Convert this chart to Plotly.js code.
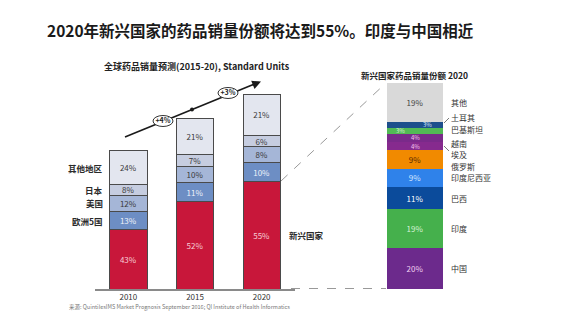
<!DOCTYPE html>
<html><head><meta charset="utf-8">
<script src="https://cdn.plot.ly/plotly-3.0.1.min.js"></script>
<style>html,body{margin:0;padding:0;background:#fff}#chart{width:574px;height:335px}</style>
</head><body><div id="chart"></div>
<script>
// ---- data: left chart (global volume forecast) ----
const years = ['2010', '2015', '2020'];
const volumeIndex = [100, 122, 141];          // total volume index (2010 = 100), +4% / +3% CAGR
const regionNames = ['新兴国家', '欧洲5国', '美国', '日本', '其他地区'];
const shareEmerging = [43, 52, 55];
const shareEU5 = [13, 11, 10];
const shareUS = [12, 10, 8];
const shareJapan = [8, 7, 6];
const shareOther = [24, 21, 21];
const growthLabels = ['+4%', '+3%'];

// ---- data: right chart (emerging market share 2020) ----
const emCountries = ['中国', '印度', '巴西', '印度尼西亚', '俄罗斯', '埃及', '越南', '巴基斯坦', '土耳其', '其他'];
const emShares = [20, 19, 11, 9, 9, 4, 4, 3, 3, 19];

const W = 574, H = 335;
const px = x => x / W, py = y => 1 - y / H;
const FONT = '"Noto Sans CJK SC", "Liberation Sans", Arial, sans-serif';

const leftShares = [shareEmerging, shareEU5, shareUS, shareJapan, shareOther];
const leftColors = ['#c8173a', '#6d8ec4', '#a5b6d7', '#c6cde0', '#e3e6ef'];
const leftTextColors = ['#f6cdd5', '#eef2fa', '#3a3a3a', '#3a3a3a', '#3a3a3a'];

const traces = [];
leftShares.forEach((s, i) => {
  traces.push({
    type: 'bar', x: years, y: s.map((v, j) => v * volumeIndex[j] / 100),
    name: regionNames[i], width: 0.56,
    marker: {color: leftColors[i], line: {color: '#4a4a4a', width: 1}},
    text: s.map(v => v + '%'), textposition: 'inside', insidetextanchor: 'middle',
    textfont: {size: 8, color: leftTextColors[i], family: FONT},
    xaxis: 'x', yaxis: 'y', hoverinfo: 'skip'
  });
});

const emColors = ['#6c2a8c', '#45b04c', '#0b4b9b', '#2f82ea', '#f18a00', '#862a8e', '#7a2a8a', '#52ba55', '#1d4f8c', '#d9d9d9'];
const emTextColors = ['#f0d0f0', '#d6f2d6', '#ffffff', '#d8e8ff', '#5a2a00', '#f5c9ef', '#f5c9ef', '#d6f2d6', '#d8e8ff', '#444444'];
emCountries.forEach((c, i) => {
  const small = emShares[i] <= 4;
  traces.push({
    type: 'bar', x: [0], y: [emShares[i]], name: c, width: 1,
    marker: {color: emColors[i], line: {width: 0}},
    text: small ? [''] : [emShares[i] + '%'], textposition: small ? 'none' : 'inside', insidetextanchor: 'middle',
    textfont: {size: 8, color: emTextColors[i], family: FONT},
    xaxis: 'x2', yaxis: 'y2', hoverinfo: 'skip'
  });
});

const ann = [];
// main title
ann.push({xref: 'paper', yref: 'paper', x: px(260), y: py(17), xanchor: 'center', text: '<b>2020年新兴国家的药品销量份额将达到55%。印度与中国相近</b>',
  showarrow: false, font: {size: 15.5, color: '#1a1a1a', family: FONT}});
// left subtitle
ann.push({xref: 'paper', yref: 'paper', x: px(197), y: py(58), xanchor: 'center', text: '<b>全球药品销量预测(2015-20), Standard Units</b>',
  showarrow: false, font: {size: 9, color: '#222', family: FONT}});
// right subtitle
ann.push({xref: 'paper', yref: 'paper', x: px(414), y: py(67), xanchor: 'center', text: '<b>新兴国家药品销量份额 2020</b>',
  showarrow: false, font: {size: 8.5, color: '#222', family: FONT}});
// left region labels aligned to 2010 segments
let cum = 0;
leftShares.forEach((s, i) => {
  const v = s[0] * volumeIndex[0] / 100;
  if (i > 0) {
    ann.push({xref: 'paper', yref: 'y', x: px(105), y: cum + v / 2, xanchor: 'right', text: '<b>' + regionNames[i] + '</b>',
      showarrow: false, font: {size: 8.5, color: '#2a2a2a', family: FONT}});
  }
  cum += v;
});
// emerging label next to 2020 bar
ann.push({xref: 'paper', yref: 'y', x: px(287), y: shareEmerging[2] * volumeIndex[2] / 200, xanchor: 'left',
  text: '<b>' + regionNames[0] + '</b>', showarrow: false, font: {size: 8.5, color: '#2a2a2a', family: FONT}});
// growth arrow head (line drawn as a shape)
ann.push({xref: 'paper', yref: 'paper', x: px(261), y: py(81.5), ax: -10, ay: 4.1, text: '', showarrow: true,
  arrowhead: 2, arrowsize: 1.1, arrowwidth: 1.6, arrowcolor: '#1a1a1a'});
// right country labels and small-segment values
const labShift = [0, 0, 0, 0, -7, -8, -5, 1, 7, 0];
const valShift = {5: 0, 6: 0, 7: -15, 8: 12};
const valYShift = {5: -0.5, 6: 0.5, 7: 0, 8: 0};
let c2 = 0;
emCountries.forEach((c, i) => {
  ann.push({xref: 'paper', yref: 'y2', x: px(449), y: c2 + emShares[i] / 2, yshift: labShift[i], xanchor: 'left',
    text: c, showarrow: false, font: {size: 8, color: '#333', family: FONT}});
  if (emShares[i] <= 4) {
    ann.push({xref: 'x2', yref: 'y2', x: 0, y: c2 + emShares[i] / 2, xshift: valShift[i], yshift: valYShift[i],
      xanchor: 'center', yanchor: 'middle', borderpad: 0,
      text: emShares[i] + '%', showarrow: false, font: {size: 6, color: emTextColors[i], family: FONT}});
  }
  c2 += emShares[i];
});
// source
ann.push({xref: 'paper', yref: 'paper', x: px(67), y: py(313), xanchor: 'left',
  text: '来源: QuintilesIMS Market Prognosis September 2016; QI Institute of Health Informatics',
  showarrow: false, font: {size: 5.5, color: '#777', family: FONT}});

const ell = (cx, cy, txt) => ({type: 'circle', xref: 'paper', yref: 'paper',
  x0: px(cx - 10), x1: px(cx + 10), y0: py(cy + 5.5), y1: py(cy - 5.5), fillcolor: '#ffffff', opacity: 1,
  line: {color: '#333', width: 1}, layer: 'above',
  label: {text: '<b>' + txt + '</b>', textposition: 'middle center', font: {size: 7, color: '#222', family: FONT}}});
const shapes = [
  {type: 'line', xref: 'paper', yref: 'paper', x0: px(125), y0: py(137), x1: px(258), y1: py(82.5), line: {color: '#1a1a1a', width: 1.6}, layer: 'above'},
  {type: 'circle', xref: 'paper', yref: 'paper', x0: px(190), x1: px(194), y0: py(111.5), y1: py(107.5),
    fillcolor: '#1a1a1a', line: {width: 0}, layer: 'above'},
  ell(163, 121, growthLabels[0]), ell(228, 93, growthLabels[1]),
  {type: 'line', xref: 'paper', yref: 'paper', x0: px(281), y0: py(181), x1: px(386), y1: py(83), line: {color: '#999', width: 1, dash: 'dash'}},
  {type: 'line', xref: 'paper', yref: 'paper', x0: px(291), y0: py(288.5), x1: px(386), y1: py(288.5), line: {color: '#999', width: 1, dash: 'dash'}},
  {type: 'line', xref: 'paper', yref: 'paper', x0: px(444), y0: py(123), x1: px(449), y1: py(118), line: {color: '#555', width: 0.8}},
  {type: 'line', xref: 'paper', yref: 'paper', x0: px(444), y0: py(146), x1: px(449), y1: py(151), line: {color: '#555', width: 0.8}}
];

const layout = {
  width: W, height: H, margin: {l: 0, r: 0, t: 0, b: 0},
  paper_bgcolor: '#fff', plot_bgcolor: 'rgba(0,0,0,0)',
  showlegend: false, barmode: 'stack',
  uniformtext: {minsize: 8, mode: 'show'},
  font: {family: FONT},
  xaxis: {domain: [px(95), px(295)], type: 'category', range: [-0.5, 2.5], anchor: 'y',
    showline: true, linecolor: '#8a8a8a', linewidth: 1.5, ticks: '', showgrid: false, zeroline: false,
    tickfont: {size: 8, color: '#333', family: FONT}, fixedrange: true},
  yaxis: {domain: [py(289), py(60)], range: [0, 165.9], visible: false, anchor: 'x', fixedrange: true},
  xaxis2: {domain: [px(387), px(443)], range: [-0.5, 0.5], visible: false, anchor: 'y2', fixedrange: true},
  yaxis2: {domain: [py(289), py(83)], range: [0, 101], visible: false, anchor: 'x2', fixedrange: true},
  annotations: ann, shapes: shapes
};

Plotly.newPlot('chart', traces, layout, {displayModeBar: false, staticPlot: true});
</script>
</body></html>
